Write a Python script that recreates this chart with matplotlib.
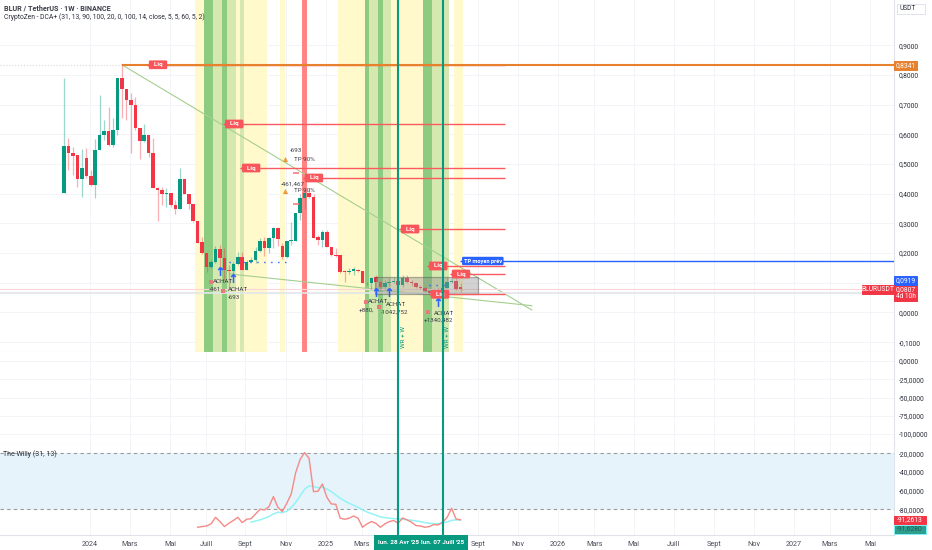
import matplotlib
matplotlib.use("Agg")
import matplotlib.pyplot as plt
from matplotlib.patches import Rectangle

plt.rcParams["font.family"] = ["Roboto", "DejaVu Sans"]

W, H = 932, 550
UP = "#089981"
DOWN = "#F23645"
TEAL = "#089981"
TEXT = "#2a2e39"

# weekly candles, week 0 = 20 nov 2023
opens = [.404, .562, .537, .529, .451, .519, .460, .428, .547, .597, .611, .565, .614, .788, .754, .715, .699, .620,
         .578, .597, .536, .418, .413, .399, .402, .362, .347, .449, .399, .365, .308,
         .236, .201, .152, .171, .214, .185, .143, .140, .162, .188, .143, .171, .177, .207, .242, .216, .250, .283,
         .225, .186, .241, .241, .334, .387, .401, .390, .253, .244, .270, .222, .194,
         .194, .140, .135, .140, .143, .140, .098, .098, .118, .104, .087, .098, .104, .107, .093, .115, .104, .100,
         .087, .084, .074, .065, .075, .066, .084, .104, .106, .086]
highs = [.788, .586, .558, .529, .551, .553, .480, .583, .732, .648, .693, .654, .788, .8341, .754, .738, .727, .620,
         .635, .597, .586, .424, .424, .418, .402, .379, .487, .449, .399, .365, .308,
         .255, .201, .177, .225, .227, .216, .160, .171, .205, .205, .177, .186, .222, .250, .253, .255, .289, .289,
         .235, .241, .306, .334, .400, .412, .418, .400, .261, .278, .278, .222, .216,
         .194, .143, .150, .154, .147, .140, .102, .118, .126, .110, .110, .115, .118, .120, .126, .126, .110, .104,
         .092, .090, .080, .080, .082, .090, .118, .120, .120, .100]
lows = [.404, .480, .463, .424, .390, .452, .426, .385, .547, .581, .561, .558, .598, .654, .648, .538, .614, .517,
        .575, .525, .418, .309, .362, .356, .356, .332, .347, .399, .347, .306, .233,
        .197, .137, .149, .168, .140, .110, .087, .120, .160, .143, .143, .169, .166, .205, .190, .199, .216, .225,
        .180, .184, .228, .241, .310, .348, .385, .250, .227, .222, .219, .190, .186,
        .132, .104, .130, .126, .135, .098, .094, .076, .065, .076, .080, .090, .098, .085, .087, .098, .090, .082,
        .080, .068, .060, .060, .062, .050, .082, .100, .075, .070]
closes = [.562, .536, .527, .451, .487, .460, .428, .547, .597, .611, .565, .614, .788, .754, .715, .699, .620, .578,
          .597, .536, .418, .413, .399, .402, .362, .347, .449, .399, .365, .308, .235,
          .201, .152, .171, .214, .185, .143, .140, .162, .188, .143, .171, .177, .207, .242, .216, .250, .283, .246,
          .188, .241, .245, .334, .387, .401, .390, .252, .244, .270, .222, .194, .190,
          .138, .135, .140, .146, .140, .098, .099, .115, .104, .087, .098, .104, .107, .093, .115, .104, .100, .087,
          .084, .074, .065, .075, .066, .084, .104, .106, .080, .0807]

# background bands, week edges
yellow_bands = [(29.5, 31.5), (38.5, 39.5), (40.5, 45.5), (48.5, 49.5), (61.5, 67.5), (73.5, 80.5), (87.5, 89.5)]
dark_bands = [(31.5, 33.5), (35.5, 36.5), (67.5, 68.5), (70.5, 71.5), (80.5, 82.5)]
light_bands = [(33.5, 35.5), (36.5, 38.5), (39.5, 40.5), (68.5, 70.5), (71.5, 73.5), (82.5, 86.5)]
red_bands = [(53.5, 54.5)]

# Liq levels
liq_weeks = [21.1, 38.2, 42.0, 56.1, 77.7, 84.0, 89.1, 84.4]
liq_prices = [.8341, .6347, .4865, .4529, .2811, .1566, .1296, .0613]
tp_week, tp_price = 94.0, .1734

cross_weeks = [75, 85]
cross_labels = ["lun. 28 Avr '25", "lun. 07 Juill '25"]

buy_weeks = [35.0, 37.9, 70.0, 73.0, 84.0]
buy_prices = [.1397, .1162, .069, .069, .0354]
pink_weeks = [32.9, 35.6, 67.8, 70.6, 81.8]
pink_prices = [.1037, .0734, .0343, .0175, .0007]
fire_weeks = [49.7, 49.7]
fire_prices = [.5168, .4091]
tp_mark_weeks = [52.1, 52.1]
tp_mark_prices = [.4697, .3653]

note_weeks = [52.1, 53.9, 51.4, 53.9, 35.7, 33.9, 39.1, 38.2, 70.4, 67.9, 74.6, 74.2, 85.3, 84.0]
note_prices = [.5438, .5168, .4327, .4091, .1037, .0791, .0781, .0512, .0354, .0084, .0253, -.0003, -.0017, -.0253]
note_texts = ["-693", "TP 90%", "-461,467", "TP 90%", "ACHAT", "-461", "ACHAT", "-693", "ACHAT", "+880,", "ACHAT",
              "-1042,752", "ACHAT", "+1340,482"]

# The Willy
willy_start = 30
willy = [-99.3, -98.6, -97.9, -95.7, -88.6, -93.2, -98.6, -95, -92.1, -88.6, -94.3, -90.7, -90, -85, -80, -80.7,
         -77.2, -66.4, -77.9, -82.5, -73.6, -63.6, -40.7, -26.5, -19.3, -25.4, -61.1, -60.7, -52.9, -67.2, -74.3,
         -74.7, -89.6, -90.7, -89.6, -87.2, -89.6, -99.3, -95.7, -93.2, -95, -99.3, -95.7, -93.2, -92.1, -95, -89.3,
         -91.4, -93.9, -97.5, -97.9, -99.3, -98.6, -96.4, -96.8, -93.9, -88.6, -79, -90.4, -91.26]
signal_start = 42
signal = [-93.9, -92.5, -91.4, -89.6, -87.9, -85, -83.2, -83.6, -82.1, -78.2, -72.5, -65.7, -58.6, -55, -55.7, -56.8,
          -56.4, -58.2, -61.1, -64.7, -68.2, -71.1, -73.6, -75.7, -77.9, -80.7, -82.9, -84.6, -86.4, -88.2, -88.9,
          -89.6, -90, -90.4, -90.7, -91.4, -91.8, -92.5, -93.2, -94.3, -95, -95.4, -95.4, -94.6, -93.6, -91.8, -91.4,
          -91.63]

month_weeks = [5.8, 14.8, 23.8, 31.9, 40.6, 49.8, 58.8, 66.9, 92.9, 101.9, 110.9, 119, 127.9, 136.9, 145.9, 154.9,
               163.9, 171.9, 180.9]
month_labels = ["2024", "Mars", "Mai", "Juill", "Sept", "Nov", "2025", "Mars", "Sept", "Nov", "2026", "Mars", "Mai",
                "Juill", "Sept", "Nov", "2027", "Mars", "Mai"]
price_ticks = [.9, .8, .7, .6, .5, .4, .3, .2, .1, 0, -.1]
mid_ticks = [0, -25, -50, -75, -100]
willy_ticks = [-20, -40, -60, -80]


def comma(v):
    return f"{v:.4f}".replace(".", ",")


def pane(top, bottom):
    # pane given by its pixel rows, the right hand scale starts at x=894
    ax = fig.add_axes([0, 1 - bottom / H, 894 / W, (bottom - top) / H])
    ax.set_xlim(-14.37, 186.3)
    ax.yaxis.tick_right()
    ax.tick_params(axis="y", length=0, pad=3.5, labelsize=4.9, labelcolor=TEXT)
    ax.tick_params(axis="x", length=0, labelbottom=False)
    ax.set_xticks(month_weeks)
    ax.grid(True, color="#f3f4f8", lw=0.7)
    ax.set_axisbelow(True)
    for s in ["top", "left"]:
        ax.spines[s].set_visible(False)
    for s in ["right", "bottom"]:
        ax.spines[s].set_color("#e0e3eb")
        ax.spines[s].set_linewidth(0.8)
    return ax


def scale_tag(top, bottom, text, color, edge=None, x0=894, x1=917, color_text="white"):
    fig.add_artist(Rectangle((x0 / W, 1 - bottom / H), (x1 - x0) / W, (bottom - top) / H, transform=fig.transFigure,
                             fc=color, ec=edge or color, lw=0.7))
    fig.text((x0 + x1) / 2 / W, 1 - (top + bottom) / 2 / H, text, color=color_text, fontsize=4.9, ha="center",
             va="center")


fig = plt.figure(figsize=(W / 100, H / 100), dpi=100)

# price pane
ax1 = pane(0, 352)
ax1.set_ylim(-.1330, 1.0522)
ax1.set_yticks(price_ticks)
ax1.set_yticklabels([comma(v) if v != .1 else "" for v in price_ticks])

for bands, color in [(yellow_bands, "#FFF9CC"), (dark_bands, "#8CCB80"), (light_bands, "#D5E8AF"),
                     (red_bands, "#FF8585")]:
    for a, b in bands:
        ax1.axvspan(a, b, color=color, lw=0, zorder=1)

# trend lines
ax1.plot([13, 105], [.8341, .0084], color="#A5CF8F", lw=0.8, zorder=2)
ax1.plot([37.3, 105], [.1296, .0229], color="#A5CF8F", lw=0.8, zorder=2)

# current price guides
ax1.axhline(.0807, color="#FBD5D7", lw=0.8, zorder=2)
ax1.axhline(.0670, color="#E3E5EA", lw=1.2, zorder=2)
ax1.hlines(.8341, -14.37, 13, color="#d9d9d9", lw=0.8, linestyles=":", zorder=2)

# candles
for i in range(len(opens)):
    color = UP if closes[i] >= opens[i] else DOWN
    ax1.vlines(i, lows[i], highs[i], color=color, alpha=0.4, lw=0.9, zorder=3)
    ax1.bar(i, abs(closes[i] - opens[i]), bottom=min(opens[i], closes[i]), width=0.8, color=color, lw=0, zorder=4)

ax1.add_patch(Rectangle((69.8, .0623), 92.9 - 69.8, .1195 - .0623, fc="#8f8f8f", alpha=0.4, ec="#444444", lw=0.9,
                        zorder=5))

# Liq lines and tags
ax1.hlines(liq_prices, liq_weeks, 99, color="#FA5A5F", lw=1.0, zorder=5)
ax1.hlines(.8341, 13, 186.3, color="#E8812D", lw=1.5, zorder=6)
ax1.hlines(tp_price, tp_week, 186.3, color="#2962FF", lw=1.0, zorder=5)
ax1.scatter([w - 2.0 for w in liq_weeks], liq_prices, marker="<", s=16, color="#F9565C", lw=0, zorder=8)
for wk, p in zip(liq_weeks, liq_prices):
    ax1.text(wk, p, "  Liq  ", color="white", fontsize=4.5, fontweight="bold", ha="center", va="center", zorder=8,
             bbox=dict(boxstyle="round,pad=0.3,rounding_size=0.2", fc="#F9565C", ec="none"))
ax1.scatter([tp_week - 4.6], [tp_price], marker="<", s=14, color="#2962FF", lw=0, zorder=8)
ax1.text(tp_week, tp_price, "TP moyen prév", color="white", fontsize=4.1, fontweight="bold", ha="center", va="center",
         zorder=8, bbox=dict(boxstyle="round,pad=0.3,rounding_size=0.2", fc="#2962FF", ec="none"))

# signals
ax1.scatter(buy_weeks, buy_prices, marker=r"$\uparrow$", s=38, color="#2962FF", lw=0.4, zorder=7)
ax1.scatter(pink_weeks, pink_prices, marker="s", s=7, color="#E8797C", lw=0, zorder=7)
ax1.scatter(fire_weeks, fire_prices, marker="^", s=14, color="#EE9A3C", lw=0, zorder=7)
ax1.scatter(tp_mark_weeks, tp_mark_prices, marker="_", s=22, color="#F77C80", lw=1.2, zorder=7)
ax1.hlines(.170, 37, 51, color="#2962FF", lw=1, linestyles=(0, (1, 4)), zorder=6)
ax1.hlines(.093, 82, 86, color="#2962FF", lw=1, linestyles=(0, (1, 4)), zorder=6)
for wk, p, txt in zip(note_weeks, note_prices, note_texts):
    ax1.text(wk, p, txt, color="#3b3f4a", fontsize=4.5, ha="center", va="center", zorder=8)
for wk in cross_weeks:
    ax1.text(wk + 1.1, -.0825, "WR + W", color=TEAL, fontsize=4.6, rotation=90, ha="center", va="center", zorder=8)

# empty middle pane
ax2 = pane(352, 445)
ax2.set_ylim(-115, 12.3)
ax2.set_yticks(mid_ticks)
ax2.set_yticklabels([comma(v) for v in mid_ticks])

# The Willy pane
ax3 = pane(445, 535)
ax3.set_ylim(-107.6, -11.1)
ax3.set_yticks(willy_ticks)
ax3.set_yticklabels([comma(v) for v in willy_ticks])
ax3.axhspan(-80, -20, color="#E6F3FB", lw=0, zorder=1)
ax3.axhline(-20, color="#9a9a9a", lw=0.8, ls=(0, (3, 3)), zorder=2)
ax3.axhline(-80, color="#9a9a9a", lw=0.8, ls=(0, (3, 3)), zorder=2)
ax3.plot(range(signal_start, signal_start + len(signal)), signal, color="#93F3F5", lw=1.1, zorder=3)
ax3.plot(range(willy_start, willy_start + len(willy)), willy, color="#F58A86", lw=1.0, zorder=4)
ax3.text(.003, .9, "The Willy (31, 13)", transform=ax3.transAxes, color=TEXT, fontsize=5, va="center")

ax3.tick_params(axis="x", labelbottom=True, labelsize=5.2, labelcolor="#4a4e59", pad=4)
ax3.set_xticklabels(month_labels)

# crosshair-like verticals through all panes
for ax in (ax1, ax2, ax3):
    for wk in cross_weeks:
        ax.axvline(wk, color=TEAL, lw=1.5, zorder=9)

# time labels of the verticals
fig.add_artist(Rectangle((374 / W, 0), 94 / W, 15 / H, transform=fig.transFigure, fc=TEAL, ec="none"))
for wk, txt in zip(cross_weeks, cross_labels):
    fig.text((64 + wk * 4.455) / W, 1 - 543 / H, txt, color="white", fontsize=4.6, fontweight="bold", ha="center",
             va="center")

# headers
fig.text(4 / W, 1 - 8.5 / H, "BLUR / TetherUS · 1W · BINANCE", color="#3b3f4a", fontsize=5.2, fontweight="bold",
         va="center")
fig.text(4 / W, 1 - 17.5 / H, "CryptoZen - DCA+ (31, 13, 90, 100, 20, 0, 100, 14, close, 5, 5, 60, 5, 2)", color=TEXT,
         fontsize=4.9, va="center")
fig.add_artist(Rectangle((897 / W, 1 - 14 / H), 28 / W, 10 / H, transform=fig.transFigure, fc="white", ec="#e0e3eb",
                         lw=0.7))
fig.text(908 / W, 1 - 9 / H, "USDT", color=TEXT, fontsize=4.8, ha="center", va="center")

# scale tags
scale_tag(61, 70, "0,8341", "#E8812D")
scale_tag(276, 286, "0,0919", "#2962FF")
scale_tag(286, 301, "", "#F23645")
fig.text(905.5 / W, 1 - 289.5 / H, "0,0807", color="white", fontsize=4.9, ha="center", va="center")
fig.text(905.5 / W, 1 - 297 / H, "4d 10h", color="white", fontsize=4.7, ha="center", va="center")
scale_tag(285, 293.5, "BLURUSDT", "#F23645", x0=862, x1=894)
scale_tag(515.5, 523.5, "-91,2613", "#F23645", x1=926)
scale_tag(524.5, 533.5, "-91,6280", "#2E9E8F", edge="#7FF5F5", x1=926, color_text="#1f5f57")

fig.savefig("out.png", dpi=100)
